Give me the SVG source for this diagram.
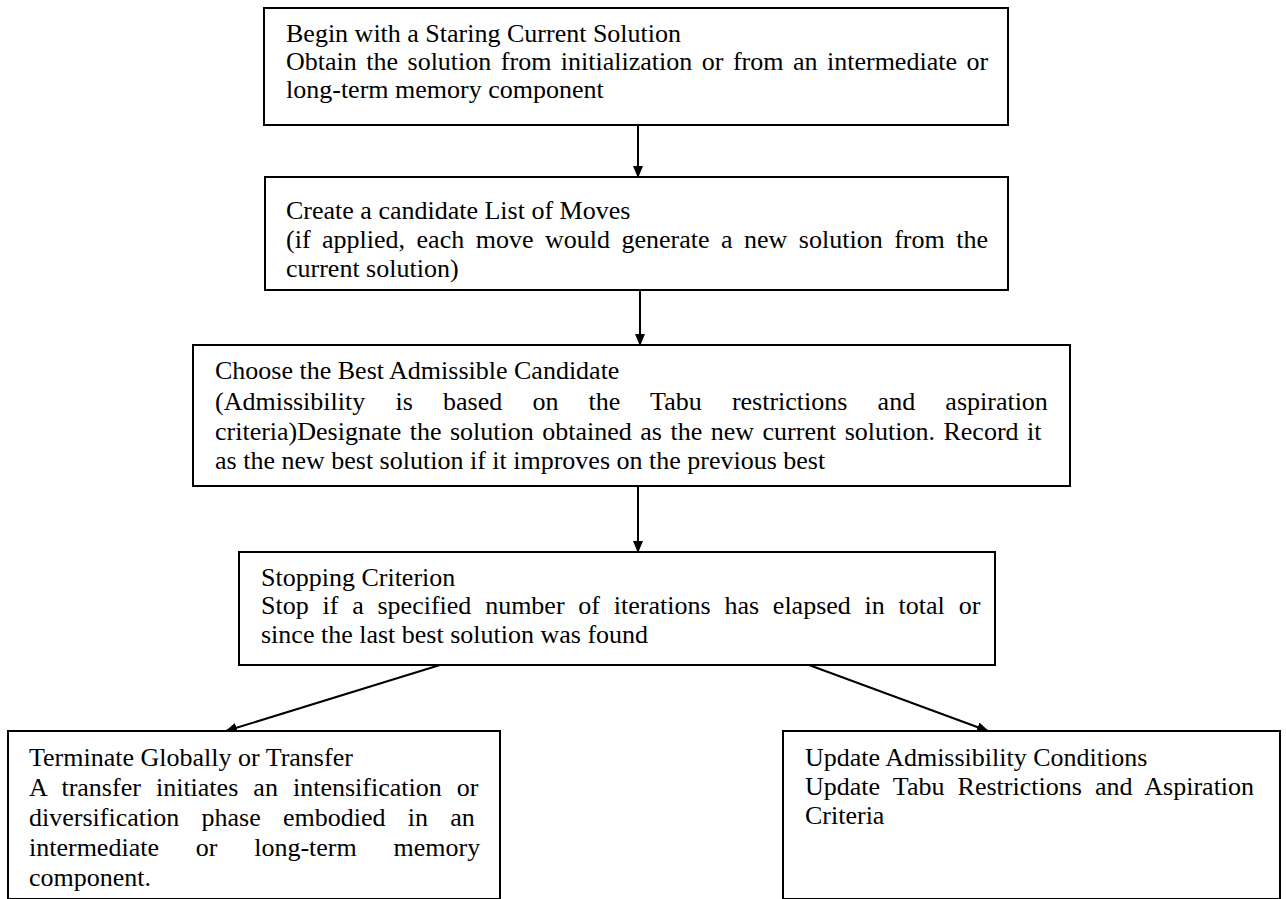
<svg xmlns="http://www.w3.org/2000/svg" width="1286" height="899" viewBox="0 0 1286 899">
  <style>
    .box { fill: #ffffff; stroke: #000000; stroke-width: 2; }
    .t { font-family: "Liberation Serif", "Times New Roman", serif; font-size: 26px; fill: #000000; }
    .link { stroke: #000000; stroke-width: 2; fill: none; marker-end: url(#arrow); }
  </style>
  <defs>
    <marker id="arrow" markerUnits="userSpaceOnUse" markerWidth="12" markerHeight="10" refX="11" refY="5" orient="auto">
      <path d="M0,0 L12,5 L0,10 z" fill="#000000"/>
    </marker>
  </defs>
  <rect width="1286" height="899" fill="#ffffff"/>

  <!-- flow arrows between the steps -->
  <g id="connectors">
    <line class="link" x1="638" y1="125" x2="638" y2="177"/>
    <line class="link" x1="640" y1="290" x2="640" y2="345"/>
    <line class="link" x1="638" y1="486" x2="638" y2="552"/>
    <line class="link" x1="440" y1="665" x2="226" y2="731"/>
    <line class="link" x1="809" y1="665" x2="988" y2="731"/>
  </g>

  <g id="start">
    <rect class="box" x="264" y="8" width="744" height="117"/>
    <text class="t" x="286" y="42">Begin with a Staring Current Solution</text>
    <text class="t" x="286" y="70" word-spacing="3">Obtain the solution from initialization or from an intermediate or</text>
    <text class="t" x="286" y="98">long-term memory component</text>
  </g>

  <g id="candidates">
    <rect class="box" x="265" y="177" width="743" height="113"/>
    <text class="t" x="286" y="219">Create a candidate List of Moves</text>
    <text class="t" x="286" y="248" word-spacing="5">(if applied, each move would generate a new solution from the</text>
    <text class="t" x="286" y="277">current solution)</text>
  </g>

  <g id="choose">
    <rect class="box" x="193" y="345" width="877" height="141"/>
    <text class="t" x="215" y="379">Choose the Best Admissible Candidate</text>
    <text class="t" x="215" y="410" word-spacing="23.7">(Admissibility is based on the Tabu restrictions and aspiration</text>
    <text class="t" x="215" y="440" word-spacing="2">criteria)Designate the solution obtained as the new current solution. Record it</text>
    <text class="t" x="215" y="469">as the new best solution if it improves on the previous best</text>
  </g>

  <g id="stopping">
    <rect class="box" x="239" y="552" width="756" height="113"/>
    <text class="t" x="261" y="586">Stopping Criterion</text>
    <text class="t" x="261" y="614" word-spacing="7.3">Stop if a specified number of iterations has elapsed in total or</text>
    <text class="t" x="261" y="643">since the last best solution was found</text>
  </g>

  <g id="terminate">
    <rect class="box" x="8" y="731" width="492" height="168"/>
    <text class="t" x="29" y="766">Terminate Globally or Transfer</text>
    <text class="t" x="29" y="796" word-spacing="8.6">A transfer initiates an intensification or</text>
    <text class="t" x="29" y="826" word-spacing="15.8">diversification phase embodied in an</text>
    <text class="t" x="29" y="856" word-spacing="30.3">intermediate or long-term memory</text>
    <text class="t" x="29" y="886">component.</text>
  </g>

  <g id="update">
    <rect class="box" x="783" y="731" width="497" height="168"/>
    <text class="t" x="805" y="766">Update Admissibility Conditions</text>
    <text class="t" x="805" y="795" word-spacing="6.7">Update Tabu Restrictions and Aspiration</text>
    <text class="t" x="805" y="824">Criteria</text>
  </g>
</svg>
